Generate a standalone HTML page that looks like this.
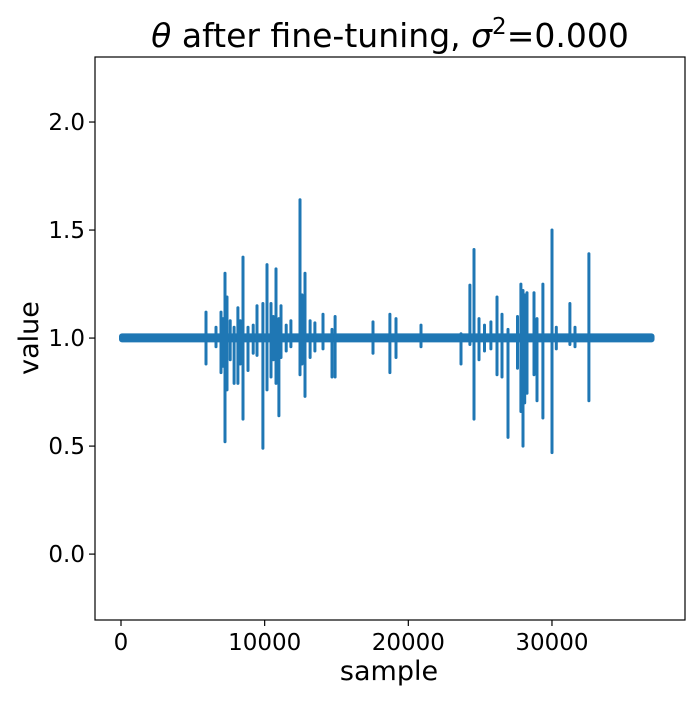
<!DOCTYPE html>
<html><head><meta charset="utf-8"><style>
body{margin:0;background:#fff;}
svg text{font-family:"DejaVu Sans","Liberation Sans",sans-serif;fill:#000;}
</style></head><body>
<svg id="chart" width="700" height="700" viewBox="0 0 700 700" xmlns="http://www.w3.org/2000/svg">
<rect width="700" height="700" fill="#fff"/>
<g id="plot"></g>
<g id="axes"></g>
<text x="390" y="47" text-anchor="middle" font-size="33"><tspan font-style="italic">θ</tspan> after fine-tuning, <tspan font-style="italic">σ</tspan><tspan font-size="23" dy="-13">2</tspan><tspan dy="13">=0.000</tspan></text>
<text x="389" y="680" text-anchor="middle" font-size="27">sample</text>
<text transform="translate(38,338) rotate(-90)" text-anchor="middle" font-size="27">value</text>
</svg>
<script>
const xTicks=[0,10000,20000,30000];
const xTickLabels=["0","10000","20000","30000"];
const yTicks=[0.0,0.5,1.0,1.5,2.0];
const yTickLabels=["0.0","0.5","1.0","1.5","2.0"];
const bandStart=0, bandEnd=37000, bandLow=0.98, bandHigh=1.022;
const spikeSamples=[5920,6610,6960,7100,7240,7380,7600,7870,8140,8300,8490,8840,9200,9470,9880,10160,10440,10600,10790,10990,11140,11500,11830,12460,12600,12810,13160,13500,14060,14690,14900,17540,18720,19140,20880,23670,24290,24570,24920,25300,25750,26170,26520,26940,27600,27840,27980,28100,28260,28750,28960,29370,30000,30300,31250,31600,32570];
const spikeHigh=[1.12,1.05,1.12,1.09,1.30,1.19,1.08,1.05,1.14,1.08,1.375,1.05,1.06,1.15,1.16,1.34,1.16,1.10,1.32,1.09,1.15,1.06,1.08,1.64,1.20,1.30,1.08,1.07,1.11,1.04,1.10,1.075,1.11,1.09,1.06,1.02,1.245,1.41,1.09,1.06,1.075,1.19,1.11,1.04,1.10,1.25,1.22,1.20,1.21,1.21,1.09,1.25,1.50,1.05,1.16,1.05,1.39];
const spikeLow=[0.88,0.96,0.84,0.87,0.52,0.76,0.90,0.79,0.79,0.88,0.625,0.85,0.93,0.92,0.49,0.76,0.82,0.90,0.79,0.64,0.91,0.94,0.96,0.83,0.88,0.73,0.91,0.94,0.95,0.82,0.82,0.93,0.84,0.91,0.96,0.88,0.97,0.625,0.90,0.94,0.95,0.83,0.82,0.54,0.86,0.66,0.50,0.70,0.745,0.83,0.71,0.63,0.47,0.95,0.97,0.96,0.71];

const L=95,R=685,T=57,B=620;
const xMin=-1810,xMax=39260,yMin=-0.305,yMax=2.301;
const sx=v=>L+(v-xMin)/(xMax-xMin)*(R-L);
const sy=v=>B-(v-yMin)/(yMax-yMin)*(B-T);
const NS="http://www.w3.org/2000/svg";
const plot=document.getElementById('plot'),axes=document.getElementById('axes');
function mk(tag,attrs,parent){const e=document.createElementNS(NS,tag);for(const k in attrs)e.setAttribute(k,attrs[k]);parent.appendChild(e);return e;}

const band=mk('rect',{x:sx(bandStart)-2,y:sy(bandHigh),width:sx(bandEnd)-sx(bandStart)+4,height:sy(bandLow)-sy(bandHigh),fill:'#1f77b4',rx:3},plot);


let d='';
spikeSamples.forEach((s,i)=>{d+=`M${sx(s).toFixed(1)},${sy(spikeHigh[i]).toFixed(1)}L${sx(s).toFixed(1)},${sy(spikeLow[i]).toFixed(1)}`;});
const line=mk('path',{d:d,stroke:'#1f77b4','stroke-width':3,fill:'none','stroke-linecap':'round'},plot);



const frame=mk('rect',{x:L,y:T,width:R-L,height:B-T,fill:'none',stroke:'#000','stroke-width':1.2},axes);


xTicks.forEach((v,i)=>{
  const t=mk('line',{x1:sx(v),x2:sx(v),y1:B,y2:B+6,stroke:'#000','stroke-width':1.2},axes);
  
  
  const l=mk('text',{x:sx(v),y:B+30,'text-anchor':'middle','font-size':23},axes);
  l.textContent=xTickLabels[i];
  
  
});
yTicks.forEach((v,i)=>{
  const t=mk('line',{x1:L-6,x2:L,y1:sy(v),y2:sy(v),stroke:'#000','stroke-width':1.2},axes);
  
  
  const l=mk('text',{x:L-10,y:sy(v)+8,'text-anchor':'end','font-size':23},axes);
  l.textContent=yTickLabels[i];
  
  
});
</script>
</body></html>
